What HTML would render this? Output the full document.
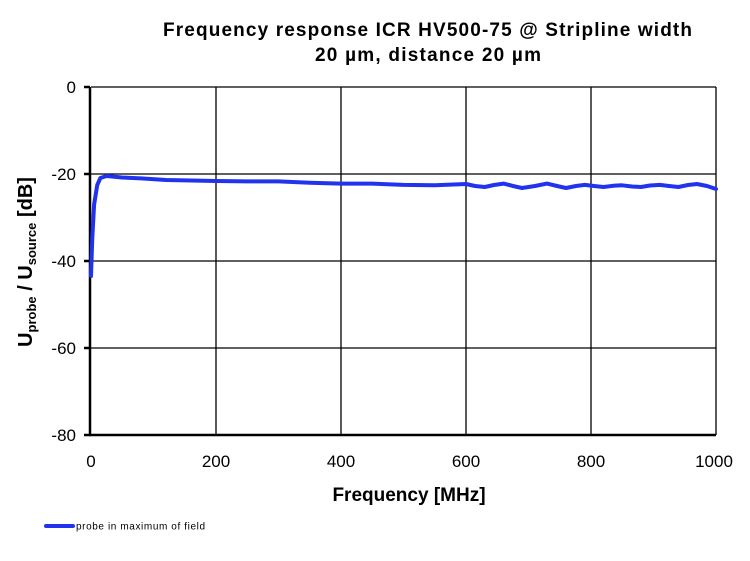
<!DOCTYPE html>
<html><head><meta charset="utf-8"><style>body{margin:0;background:#fff}svg{display:block}text{font-family:"Liberation Sans",Arial,sans-serif}</style></head><body>
<svg width="750" height="561" viewBox="0 0 750 561" xmlns="http://www.w3.org/2000/svg">
<g font-size="19" font-weight="bold" fill="#000">
<text x="163" y="36" textLength="529" lengthAdjust="spacing">Frequency response ICR HV500-75 @ Stripline  width</text>
<text x="315" y="61" textLength="226" lengthAdjust="spacing">20 µm, distance 20 µm</text>
</g>
<g stroke="#000" stroke-width="1.3" fill="none">
<line x1="91" y1="87" x2="716" y2="87"/><line x1="91" y1="174" x2="716" y2="174"/><line x1="91" y1="261" x2="716" y2="261"/><line x1="91" y1="348" x2="716" y2="348"/>
<line x1="216" y1="87" x2="216" y2="435"/><line x1="341" y1="87" x2="341" y2="435"/><line x1="466" y1="87" x2="466" y2="435"/><line x1="591" y1="87" x2="591" y2="435"/><line x1="716" y1="87" x2="716" y2="435"/>
</g>
<g stroke="#000" stroke-width="2.5">
<line x1="90" y1="87" x2="90" y2="436"/><line x1="89" y1="435" x2="716" y2="435"/>
<line x1="84" y1="87" x2="90" y2="87"/><line x1="84" y1="174" x2="90" y2="174"/><line x1="84" y1="261" x2="90" y2="261"/><line x1="84" y1="348" x2="90" y2="348"/><line x1="84" y1="435" x2="90" y2="435"/>
</g>
<g font-size="17" fill="#000" text-anchor="end">
<text x="76" y="93">0</text><text x="76" y="180">-20</text><text x="76" y="267">-40</text><text x="76" y="354">-60</text><text x="76" y="441">-80</text>
</g>
<g font-size="17" fill="#000" text-anchor="middle">
<text x="91" y="467">0</text><text x="216" y="467">200</text><text x="341" y="467">400</text><text x="466" y="467">600</text><text x="591" y="467">800</text><text x="714" y="467">1000</text>
</g>
<text x="409" y="501" font-size="19" font-weight="bold" text-anchor="middle">Frequency [MHz]</text>
<text transform="translate(32,262) rotate(-90)" font-size="20" font-weight="bold" text-anchor="middle">U<tspan font-size="13" dy="4">probe</tspan><tspan dy="-4"> / U</tspan><tspan font-size="13" dy="4">source</tspan><tspan dy="-4"> [dB]</tspan></text>
<polyline fill="none" stroke="#2233ee" stroke-width="4" stroke-linejoin="round" stroke-linecap="round" points="91,276 92.25,239 94.1,204.5 97.25,185 100.4,178 106.6,176 122,177.5 141,178.4 166,180 216,181 247,181.4 278.5,181.4 309.8,182.7 341,183.6 372,183.6 403.5,184.9 434.8,185.3 466,184 475,186 484.8,187 494,185 503.5,183.6 513,186 522,188 535,186 547,183.6 557,186 566,188 576,186 584.8,184.9 594,186 603.5,187 613,185.8 622,185.3 632,186.5 641,187 650,185.5 660,184.9 669,186 678.5,187 688,185 697,184 707,186 716,189"/>
<line x1="46" y1="526" x2="73" y2="526" stroke="#2233ee" stroke-width="4" stroke-linecap="round"/>
<text x="76" y="529.5" font-size="10" fill="#000" textLength="129" lengthAdjust="spacing">probe in maximum of field</text>
</svg>
</body></html>
